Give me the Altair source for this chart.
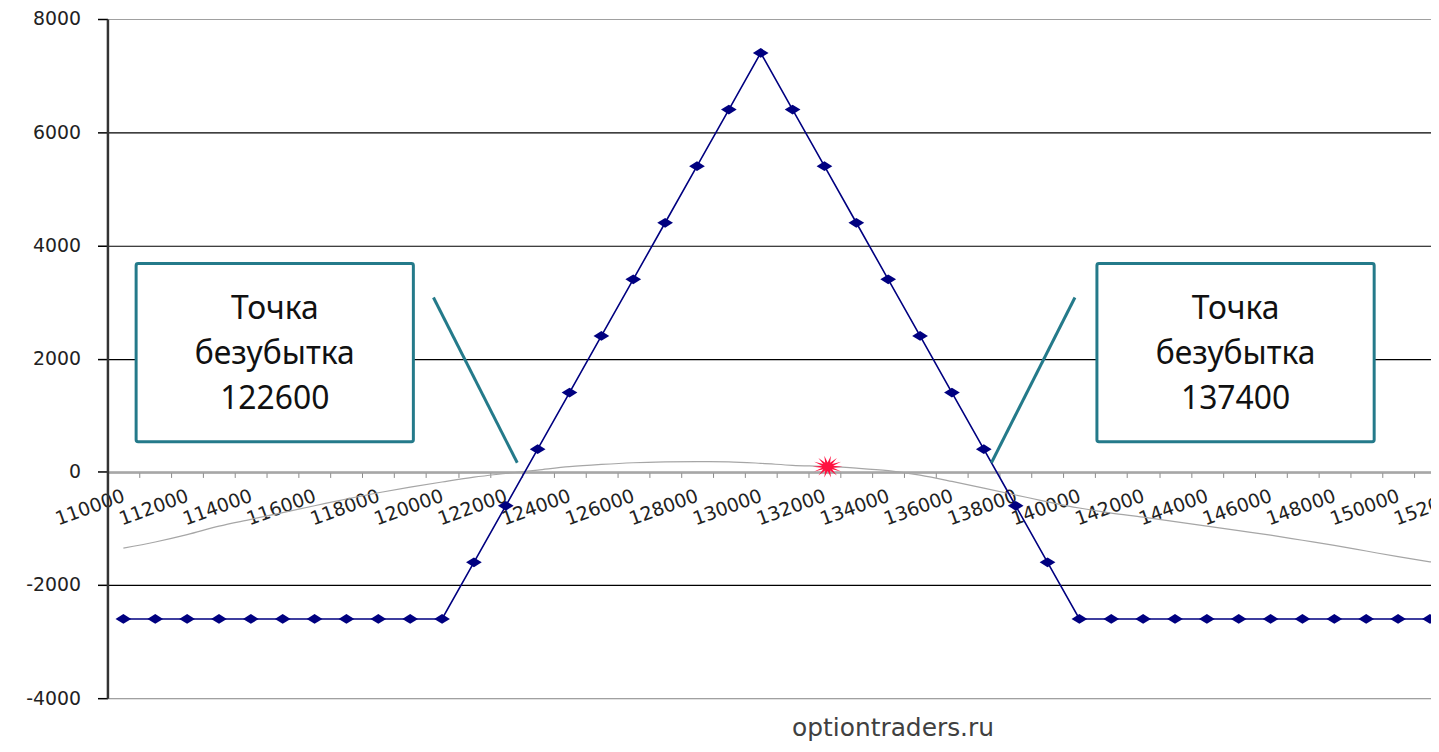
import math
import altair as alt
import pandas as pd

# ---- data ----
strikes = list(range(110000, 153000, 1000))
payoff_at_expiry = [
    -2600, -2600, -2600, -2600, -2600, -2600, -2600, -2600, -2600, -2600, -2600,
    -1600, -600, 400, 1400, 2400, 3400, 4400, 5400, 6400, 7400,
    6400, 5400, 4400, 3400, 2400, 1400, 400, -600, -1600,
    -2600, -2600, -2600, -2600, -2600, -2600, -2600, -2600, -2600, -2600, -2600, -2600, -2600,
]
payoff_today = [
    -1350, -1240, -1110, -960, -840, -720, -600, -480, -370, -270, -180,
    -95, -30, 30, 90, 130, 160, 175, 180, 175, 150,
    115, 95, 65, 20, -60, -170, -290, -410, -530,
    -640, -730, -800, -880, -960, -1040, -1120, -1210, -1300, -1400, -1500, -1590, -1680,
]
current_price = [132100]
current_pnl = [90]

note_texts = ["Точка\nбезубытка\n122600", "Точка\nбезубытка\n137400"]
note_x = [114750, 144900]
note_y = [2870, 2870]
box_x1 = [110400, 140550]
box_x2 = [119100, 149250]
box_y1 = [530, 530]
box_y2 = [3680, 3680]
ptr_x1 = [119730, 139860]
ptr_y1 = [3080, 3080]
ptr_x2 = [122360, 137240]
ptr_y2 = [160, 160]
footer = "optiontraders.ru"

# ---- tables ----
df = pd.DataFrame({"x": strikes, "exp": payoff_at_expiry, "today": payoff_today})
star_df = pd.DataFrame({"x": current_price, "y": current_pnl})
notes_df = pd.DataFrame({"x": note_x, "y": note_y, "t": note_texts})
box_df = pd.DataFrame({"x": box_x1, "x2": box_x2, "y": box_y1, "y2": box_y2})
ptr_df = pd.DataFrame({"x": ptr_x1, "x2": ptr_x2, "y": ptr_y1, "y2": ptr_y2})
foot_df = pd.DataFrame({"t": [footer]})

W, H = 1331, 683
TEAL = "#247a8a"
NAVY = "#000080"

xscale = alt.Scale(domain=[109500, 152500], range=[0, 1378], nice=False, zero=False)
yscale = alt.Scale(domain=[-4000, 8000], nice=False, zero=False)

xaxis = alt.Axis(
    values=[v + 500 for v in strikes],
    labelExpr="(datum.value - 500) % 2000 == 0 ? format(datum.value - 500, 'd') : ''",
    labelOffset=-19, labelAngle=340, labelAlign="right", labelBaseline="top",
    labelPadding=9, labelFont="DejaVu Sans", labelFontSize=19, labelColor="#222222",
    labelOverlap=False, labelFlush=False, labelBound=False,
    tickSize=5, tickColor="#8a8a8a", tickWidth=1,
    domainColor="#9a9a9a", domainWidth=1.5, grid=False, offset=-227, title=None,
)
yaxis = alt.Axis(
    values=[-4000, -2000, 0, 2000, 4000, 6000, 8000],
    labelExpr="datum.value < 0 ? '-' + abs(datum.value) : '' + datum.value",
    labelFont="DejaVu Sans", labelFontSize=19, labelColor="#222222", labelPadding=17,
    tickSize=10, tickColor="#000000", tickWidth=1.5,
    domainColor="#333333", domainWidth=2.5,
    grid=True,
    gridColor={"condition": {"test": "datum.value == 8000 || datum.value == -4000 || datum.value == 0",
                             "value": "#a0a0a0"}, "value": "#000000"},
    gridWidth=1.2, title=None,
)

X = alt.X("x:Q", scale=xscale, axis=xaxis)
Y = alt.Y("y:Q", scale=yscale, axis=yaxis)

today_line = alt.Chart(df).mark_line(color="#a6a6a6", strokeWidth=1.2, interpolate="monotone").encode(
    x=X, y=alt.Y("today:Q", scale=yscale, axis=yaxis)
)

exp_line = alt.Chart(df).mark_line(color=NAVY, strokeWidth=1.6).encode(
    x=X, y=alt.Y("exp:Q", scale=yscale, axis=yaxis)
)

diamond = "M -1 0 L 0 -0.62 L 1 0 L 0 0.62 Z"
exp_pts = alt.Chart(df).mark_point(shape=diamond, filled=True, color=NAVY, size=250, opacity=1).encode(
    x=X, y=alt.Y("exp:Q", scale=yscale, axis=yaxis)
)

# starburst glyph
n = 14
pts = []
for i in range(2 * n):
    r = 1.0 if i % 2 == 0 else 0.38
    a = math.pi * i / n
    pts.append(f"{r*math.cos(a):.3f} {0.75*r*math.sin(a):.3f}")
star_path = "M " + " L ".join(pts) + " Z"
star = alt.Chart(star_df).mark_point(shape=star_path, filled=True, color="#ff1240", size=900, opacity=1).encode(
    x=X, y=Y
)

boxes = alt.Chart(box_df).mark_rect(fill="white", stroke=TEAL, strokeWidth=3, cornerRadius=2).encode(
    x=X, x2="x2:Q", y=Y, y2="y2:Q"
)
pointers = alt.Chart(ptr_df).mark_rule(color=TEAL, strokeWidth=3).encode(
    x=X, x2="x2:Q", y=Y, y2="y2:Q"
)
notes = alt.Chart(notes_df).mark_text(
    font="Noto Sans", fontSize=32, lineBreak="\n", lineHeight=45,
    align="center", baseline="middle", color="#111111"
).encode(x=X, y=Y, text="t:N")

foot = alt.Chart(foot_df).mark_text(
    font="DejaVu Sans", fontSize=25, color="#404040", align="center", baseline="alphabetic"
).encode(x=alt.value(790), y=alt.value(721), text="t:N")

chart = alt.layer(today_line, exp_line, exp_pts, star, boxes, pointers, notes, foot).properties(
    width=W, height=H,
    autosize=alt.AutoSizeParams(type="none"),
    padding={"left": 100, "top": 9, "right": 0, "bottom": 44},
).configure_view(stroke=None).configure(background="white")

chart.save("out.html", embed_options={"renderer": "svg", "actions": False})
